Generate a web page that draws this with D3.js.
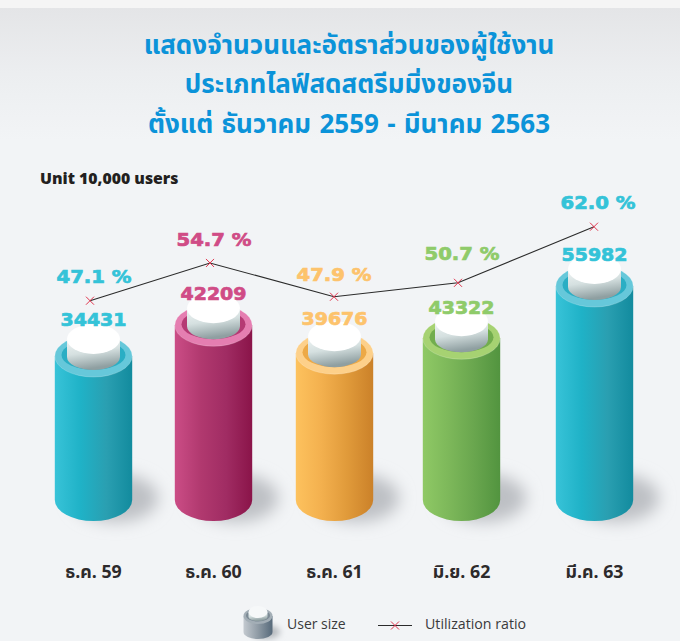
<!DOCTYPE html>
<html>
<head>
<meta charset="utf-8">
<style>
  html, body { margin: 0; padding: 0; background: #f2f4f6; }
  svg { display: block; }
</style>
</head>
<body>
<script src="https://cdn.jsdelivr.net/npm/d3@7/dist/d3.min.js"></script>
<script>
const categories = ['ธ.ค. 59', 'ธ.ค. 60', 'ธ.ค. 61', 'มิ.ย. 62', 'มี.ค. 63'];
const userSize = [34431, 42209, 39676, 43322, 55982];
const ratio = [47.1, 54.7, 47.9, 50.7, 62.0];
// the source graphic's cylinders are not to scale with their printed numbers,
// so this is how tall each one looks in the same unit
const drawnSize = [34431, 43900, 35300, 39900, 55982];
const titleLines = ['แสดงจำนวนและอัตราส่วนของผู้ใช้งาน', 'ประเภทไลฟ์สดสตรีมมิ่งของจีน', 'ตั้งแต่ ธันวาคม 2559 - มีนาคม 2563'];
const colors = [
  { label: '#34c3d8', stops: ['#38c3d8', '#1fb2c7', '#2a9fb1', '#128b9e'], rim: '#66c8da', hole: '#2aaec4' },
  { label: '#d04c86', stops: ['#cb4d86', '#b1396f', '#a02c63', '#8a1449'], rim: '#e57eb1', hole: '#b53a74' },
  { label: '#fdc36c', stops: ['#fdc25e', '#f3b04e', '#e09a3a', '#cb8129'], rim: '#fdd08a', hole: '#eda946' },
  { label: '#8fcb6a', stops: ['#8fc965', '#7db85a', '#69a64e', '#52943f'], rim: '#a6d272', hole: '#72ad4e' },
  { label: '#34c3d8', stops: ['#38c3d8', '#1fb2c7', '#2a9fb1', '#128b9e'], rim: '#66c8da', hole: '#2aaec4' }
];

const width = 680;
const height = 641;
const svg = d3.select('body').append('svg').attr('width', width).attr('height', height);
const defs = svg.append('defs');

function gradient(id, stops, x2, y2) {
  const g = defs.append('linearGradient').attr('id', id)
    .attr('x1', 0).attr('y1', 0).attr('x2', x2).attr('y2', y2);
  stops.forEach((c, i) => g.append('stop').attr('offset', i / (stops.length - 1)).attr('stop-color', c));
}

gradient('bg', ['#e4e5e7', '#eceef0', '#f2f4f6'], 0, 1);
gradient('plug', ['#f0f5f5', '#d5e0e0', '#8f9fa1'], 0.25, 1);
gradient('legendBody', ['#c4cad0', '#8f9ba5', '#56697a'], 1, 0);
colors.forEach((c, i) => gradient('body' + i, c.stops, 1, 0));
defs.append('filter').attr('id', 'blur').attr('x', '-50%').attr('y', '-50%').attr('width', '200%').attr('height', '200%')
  .append('feGaussianBlur').attr('stdDeviation', 8);
defs.append('filter').attr('id', 'blurSmall').attr('x', '-50%').attr('y', '-50%').attr('width', '200%').attr('height', '200%')
  .append('feGaussianBlur').attr('stdDeviation', 3);

svg.append('rect').attr('width', width).attr('height', height).attr('fill', '#f2f4f6');
svg.append('rect').attr('y', 8).attr('width', width).attr('height', 132).attr('fill', 'url(#bg)');
svg.append('rect').attr('width', width).attr('height', 8).attr('fill', '#f5f5f5');

const x = d3.scaleOrdinal().domain(categories).range([93.5, 213.5, 334.5, 461.5, 594.5]);
const lineX = d3.scaleOrdinal().domain(categories).range([90, 210, 334, 458, 594]);
const yBar = d3.scaleLinear().domain([34431, 55982]).range([356, 286]);
const yRatio = d3.scaleLinear().domain([47.1, 62]).range([300.7, 226.7]);
// labels sit a little unevenly in the source, so they get their own baselines
const sizeLabelY = d3.scaleOrdinal().domain(categories).range([326, 300, 325, 314, 261]);
const pctLabelY = d3.scaleOrdinal().domain(categories).range([283, 246, 281, 260, 209]);
const pctLabelX = d3.scaleOrdinal().domain(categories).range([94, 214, 334, 462, 598]);

const rx = 38.7, ry = 21, baseY = 500;
const thai = "'Noto Sans Thai', 'Noto Sans', 'DejaVu Sans', sans-serif";
const wide = "'DejaVu Sans', sans-serif";

titleLines.forEach((t, i) => {
  svg.append('text').attr('x', 349).attr('y', [54, 93, 133][i])
    .attr('text-anchor', 'middle').attr('font-family', thai).attr('font-weight', 700)
    .attr('font-size', 26).attr('fill', '#0b93d9').attr('word-spacing', i === 2 ? 1.5 : 0).text(t);
});

svg.append('text').attr('x', 40).attr('y', 184).attr('font-family', "'Open Sans', sans-serif")
  .attr('font-weight', 800).attr('font-size', 15.8).attr('fill', '#231f20').text('Unit 10,000 users');

const bars = svg.selectAll('g.bar').data(categories).enter().append('g').attr('class', 'bar');

bars.append('ellipse')
  .attr('cx', d => x(d) + 22).attr('cy', baseY - 2)
  .attr('rx', rx + 4).attr('ry', ry + 3)
  .attr('fill', '#bdc0c4').attr('filter', 'url(#blur)');

bars.append('path')
  .attr('fill', (d, i) => `url(#body${i})`)
  .attr('d', (d, i) => {
    const cx = x(d), top = yBar(drawnSize[i]);
    return `M${cx - rx},${top}L${cx - rx},${baseY}A${rx},${ry} 0 0 0 ${cx + rx},${baseY}L${cx + rx},${top}Z`;
  });

bars.append('ellipse').attr('cx', d => x(d)).attr('cy', (d, i) => yBar(drawnSize[i]))
  .attr('rx', rx).attr('ry', ry).attr('fill', (d, i) => colors[i].rim)
  .attr('stroke', '#ffffff').attr('stroke-opacity', 0.25).attr('stroke-width', 0.8);
bars.append('ellipse').attr('cx', d => x(d)).attr('cy', (d, i) => yBar(drawnSize[i]) - 1)
  .attr('rx', 32).attr('ry', 15).attr('fill', (d, i) => colors[i].hole);

// white plug sitting in the tube
bars.append('path')
  .attr('fill', 'url(#plug)')
  .attr('d', (d, i) => {
    const cx = x(d), c = yBar(drawnSize[i]), r = 26.5;
    return `M${cx - r},${c - 17}L${cx - r},${c + 1}A${r},13 0 0 0 ${cx + r},${c + 1}L${cx + r},${c - 17}Z`;
  });
bars.append('ellipse').attr('cx', d => x(d)).attr('cy', (d, i) => yBar(drawnSize[i]) - 17)
  .attr('rx', 26.5).attr('ry', 15).attr('fill', '#ffffff');

bars.append('text').attr('x', d => x(d)).attr('y', d => sizeLabelY(d))
  .attr('text-anchor', 'middle').attr('font-family', wide).attr('font-weight', 700)
  .attr('font-size', 17.5).attr('textLength', 66).attr('lengthAdjust', 'spacingAndGlyphs')
  .attr('stroke', (d, i) => colors[i].label).attr('stroke-width', 0.7)
  .attr('fill', (d, i) => colors[i].label).text((d, i) => userSize[i]);

const line = d3.line().x(d => lineX(d)).y(d => yRatio(ratio[categories.indexOf(d)]));
svg.append('path').attr('d', line(categories)).attr('fill', 'none').attr('stroke', '#2b2b2b').attr('stroke-width', 1.1);

const cross = d3.symbol().type(d3.symbolTimes).size(44);
svg.selectAll('path.mark').data(categories).enter().append('path').attr('class', 'mark')
  .attr('d', cross)
  .attr('transform', d => `translate(${lineX(d)},${yRatio(ratio[categories.indexOf(d)])})`)
  .attr('fill', 'none').attr('stroke', '#e0364f').attr('stroke-width', 1);

svg.selectAll('text.pct').data(categories).enter().append('text').attr('class', 'pct')
  .attr('x', d => pctLabelX(d)).attr('y', d => pctLabelY(d))
  .attr('text-anchor', 'middle').attr('font-family', wide).attr('font-weight', 700)
  .attr('font-size', 17.5).attr('textLength', 75).attr('lengthAdjust', 'spacingAndGlyphs')
  .attr('stroke', (d, i) => colors[i].label).attr('stroke-width', 0.7)
  .attr('fill', (d, i) => colors[i].label)
  .text((d, i) => ratio[i].toFixed(1) + ' %');

svg.selectAll('text.cat').data(categories).enter().append('text').attr('class', 'cat')
  .attr('x', d => x(d)).attr('y', 578).attr('text-anchor', 'middle')
  .attr('font-family', thai).attr('font-weight', 700).attr('font-size', 17.8).attr('fill', '#2d2a2b')
  .text(d => d);

// legend
const legend = svg.append('g');
legend.append('ellipse').attr('cx', 266).attr('cy', 632).attr('rx', 14).attr('ry', 7).attr('fill', '#b5b9bd').attr('filter', 'url(#blurSmall)');
legend.append('path').attr('fill', 'url(#legendBody)').attr('d', 'M243.5,616L243.5,632A14.5,7 0 0 0 272.5,632L272.5,616Z');
legend.append('ellipse').attr('cx', 258).attr('cy', 616).attr('rx', 14.5).attr('ry', 8).attr('fill', '#a3aeb6');
legend.append('ellipse').attr('cx', 258).attr('cy', 615.5).attr('rx', 12).attr('ry', 6).attr('fill', '#7c8a95');
legend.append('path').attr('fill', 'url(#plug)').attr('d', 'M248.5,612L248.5,617A9.5,4 0 0 0 267.5,617L267.5,612Z');
legend.append('ellipse').attr('cx', 258).attr('cy', 612).attr('rx', 9.5).attr('ry', 6).attr('fill', '#f6f8f9');
legend.append('text').attr('x', 287).attr('y', 629).attr('font-family', "'Open Sans', sans-serif").attr('font-size', 14).attr('fill', '#3a3a3c').text('User size');
legend.append('line').attr('x1', 378).attr('x2', 412).attr('y1', 625.5).attr('y2', 625.5).attr('stroke', '#2b2b2b');
legend.append('path').attr('d', cross).attr('transform', 'translate(395,625.5)').attr('fill', 'none').attr('stroke', '#e0364f');
legend.append('text').attr('x', 425).attr('y', 629).attr('font-family', "'Open Sans', sans-serif").attr('font-size', 14.2).attr('fill', '#3a3a3c').text('Utilization ratio');
</script>
</body>
</html>
